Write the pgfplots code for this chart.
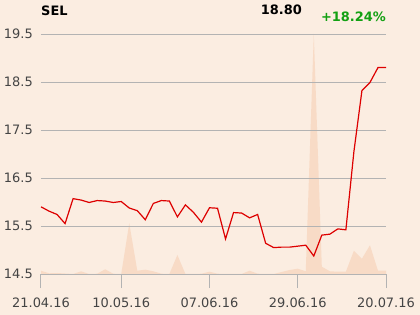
\documentclass[border=0pt]{standalone}
\usepackage{pgfplots}
\pgfplotsset{compat=1.18}
\usepackage{fontspec}
\setmainfont{DejaVu Sans}
\definecolor{bg}{HTML}{FBEDE1}
\definecolor{vol}{HTML}{F8DBC6}
\definecolor{pr}{HTML}{DD0000}
\definecolor{gr}{HTML}{B3B3B3}
\definecolor{lab}{HTML}{444444}
\definecolor{grn}{HTML}{12A012}
\pgfplotstableread{
i p
0 15.90
1 15.81
2 15.74
3 15.55
4 16.07
5 16.04
6 15.99
7 16.03
8 16.02
9 15.99
10 16.01
11 15.875
12 15.82
13 15.63
14 15.97
15 16.03
16 16.02
17 15.69
18 15.94
19 15.785
20 15.58
21 15.88
22 15.87
23 15.23
24 15.78
25 15.77
26 15.67
27 15.74
28 15.14
29 15.05
30 15.06
31 15.06
32 15.08
33 15.10
34 14.875
35 15.31
36 15.33
37 15.44
38 15.42
39 17.05
40 18.32
41 18.49
42 18.80
43 18.80
}\price
\pgfplotstableread{
i v
0 3.3
1 0.7
2 1
3 0.5
4 0
5 2.7
6 0
7 0.3
8 4.7
9 0.3
10 0
11 50.7
12 3.3
13 4.3
14 2.7
15 0.3
16 0
17 19
18 0
19 0
20 0.3
21 2.3
22 0.3
23 0
24 0
25 0
26 3.3
27 0.3
28 0
29 0
30 2
31 4
32 5.3
33 2.7
34 240
35 7.3
36 2.7
37 2.3
38 2.3
39 23.3
40 15.3
41 28.7
42 3.3
43 3.3
}\volume
\begin{document}
\begin{tikzpicture}[x=1bp,y=1bp]
\fill[bg] (0,0) rectangle (420,315);
\useasboundingbox (0,0) rectangle (420,315);
\begin{axis}[at={(41bp,41bp)}, anchor=south west, scale only axis,
  width=345bp, height=240bp, xmin=0, xmax=43, ymin=0, ymax=240,
  axis lines=none, clip=true]
\addplot[fill=vol, draw=none] table[x=i,y=v] {\volume} \closedcycle;
\end{axis}
\begin{axis}[at={(41bp,41bp)}, anchor=south west, scale only axis,
  width=345bp, height=240bp, xmin=0, xmax=43, ymin=14.5, ymax=19.5,
  axis x line*=bottom, axis y line*=left,
  x axis line style={gr, line width=1bp, -},
  y axis line style={draw=none},
  ytick={14.5,15.5,16.5,17.5,18.5,19.5},
  ytick style={draw=none},
  ymajorgrids, grid style={gr, line width=0.9bp},
  xtick={0,10,21,32,43},
  xticklabels={21.04.16,10.05.16,07.06.16,29.06.16,20.07.16},
  tick align=outside, xtick style={gr, line width=1bp},
  major tick length=14bp,
  /pgf/number format/assume math mode=true,
  /pgf/number format/fixed, /pgf/number format/fixed zerofill, /pgf/number format/precision=1,
  yticklabel style={text=lab, font=\fontsize{13}{15}\selectfont, inner sep=0pt, anchor=east, xshift=6bp},
  xticklabel style={text=lab, font=\fontsize{13}{15}\selectfont, inner sep=0pt, anchor=north, yshift=-10bp},
  clip=false]
\addplot[pr, line width=1.2bp] table[x=i,y=p] {\price};
\end{axis}
\node[anchor=base west, inner sep=0pt, font=\bfseries\fontsize{13}{15}\selectfont] at (41,300) {SEL};
\node[anchor=base east, inner sep=0pt, font=\bfseries\fontsize{13}{15}\selectfont] at (302,300.3) {18.80};
\node[anchor=base east, inner sep=0pt, text=grn, font=\bfseries\fontsize{13}{15}\selectfont] at (386,293.7) {+18.24\%};
\end{tikzpicture}
\end{document}
